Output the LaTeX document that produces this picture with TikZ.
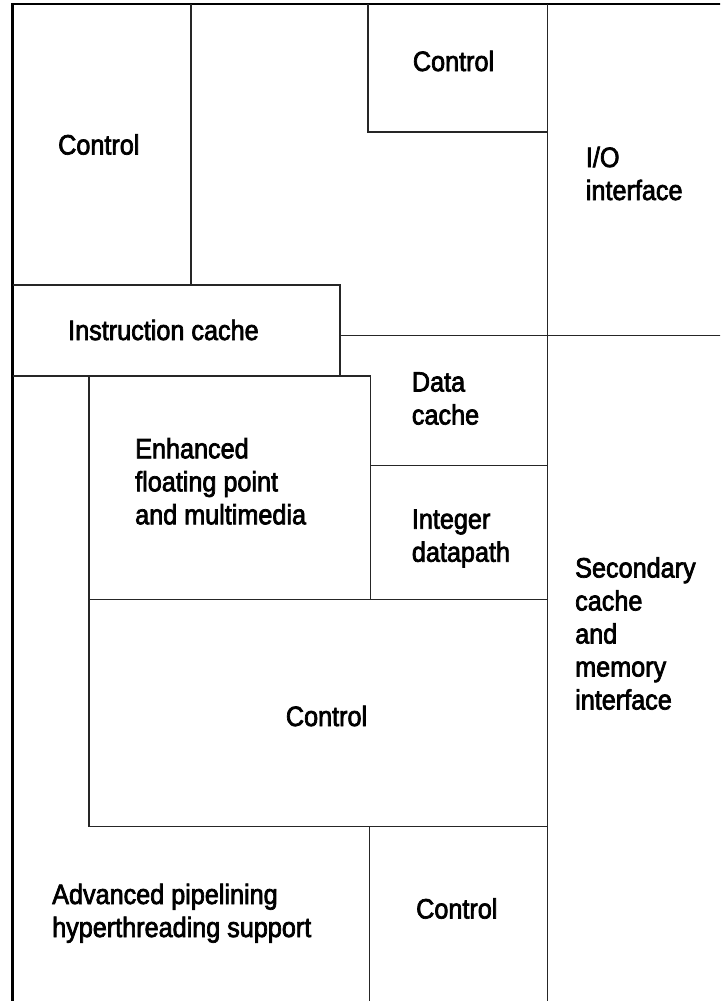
\documentclass[tikz,border=0pt]{standalone}
\usepackage{fontspec}
\setmainfont{Liberation Sans}[FakeStretch=0.9,FakeBold=2.5]
\usepackage{tikz}
\usetikzlibrary{positioning}
\tikzstyle{frame} = [line width=2.4pt, black]
\tikzstyle{wall} = [line width=1.4pt, black!85]
\tikzstyle{unit} = [anchor=base west, inner sep=0pt, align=left, font=\fontsize{28}{33}\selectfont]

\begin{document}
\begin{tikzpicture}[x=1pt,y=-1pt]
            \clip(0,0) rectangle (720,1001);
            \draw[frame](12.5,1010) |- (730,4);
            \draw[wall](191,4) -- (191,285);
            \draw[wall](368,4) |- (547.5,132);
            \draw[wall](547.5,4) -- (547.5,1010);
            \draw[wall](12.5,285) -| (340,376);
            \draw[wall](340,335.5) -- (730,335.5);
            \draw[wall](12.5,376) -- (370.5,376);
            \draw[wall](89,376) -- (89,826.5);
            \draw[wall](370.5,376) -- (370.5,599.5);
            \draw[wall](370.5,465.5) -- (547.5,465.5);
            \draw[wall](89,599.5) -- (547.5,599.5);
            \draw[wall](89,826.5) -- (547.5,826.5);
            \draw[wall](369.5,826.5) -- (369.5,1010);
            % multi-line labels sit on the baseline of their last line
            \node(ctrlleft)[unit] at (58,154.5){Control};
            \node(ctrltop)[unit] at (412.7,71){Control};
            \node(io)[unit] at (585.7,200){I/O\\interface};
            \node(icache)[unit] at (68,340){Instruction cache};
            \node(dcache)[unit] at (411.7,424.5){Data\\cache};
            \node(fpu)[unit] at (135,524.3){Enhanced\\floating point\\and multimedia};
            \node(intpath)[unit] at (411.7,561.7){Integer\\datapath};
            \node(l2cache)[unit] at (575,709.5){Secondary\\cache\\and\\memory\\interface};
            \node(ctrlmid)[unit] at (285.7,726){Control};
            \node(pipeline)[unit] at (52,937){Advanced pipelining\\hyperthreading support};
            \node(ctrlbot)[unit] at (416,918.5){Control};
        \end{tikzpicture}
\end{document}
